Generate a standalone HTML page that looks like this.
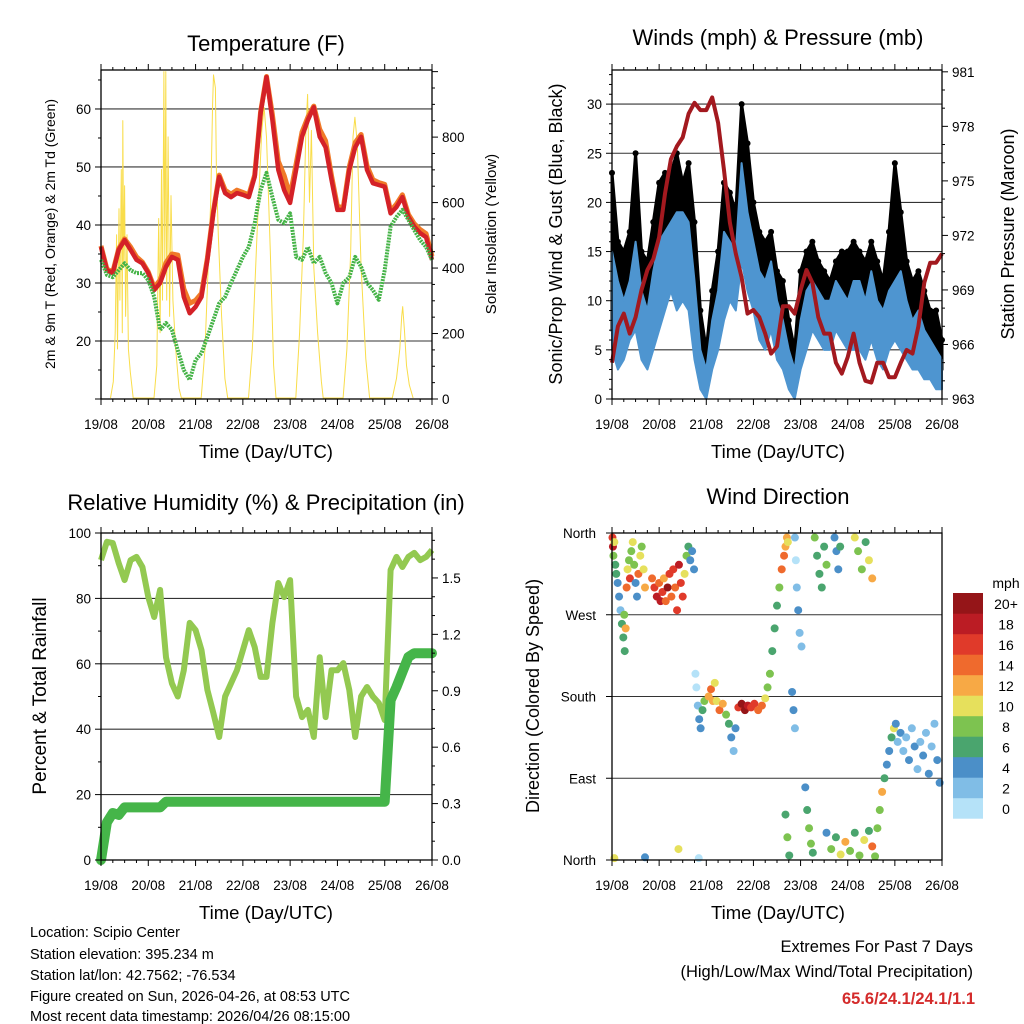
<!DOCTYPE html>
<html><head><meta charset="utf-8">
<style>
html,body{margin:0;padding:0;background:#fff;}
svg{display:block;font-family:"Liberation Sans",Arial,sans-serif;}
</style></head>
<body>
<svg id="root" width="1024" height="1024" viewBox="0 0 1024 1024" xmlns="http://www.w3.org/2000/svg">
<rect x="0" y="0" width="1024" height="1024" fill="#fff"/>
<text x="266" y="51" font-size="22" text-anchor="middle">Temperature (F)</text>
<text x="778" y="45" font-size="22" text-anchor="middle">Winds (mph) &amp; Pressure (mb)</text>
<text x="266" y="510" font-size="22" text-anchor="middle">Relative Humidity (%) &amp; Precipitation (in)</text>
<text x="778" y="504" font-size="22" text-anchor="middle">Wind Direction</text>
<text x="266" y="458" font-size="18.5" text-anchor="middle">Time (Day/UTC)</text>
<text x="778" y="458" font-size="18.5" text-anchor="middle">Time (Day/UTC)</text>
<text x="266" y="919" font-size="18.5" text-anchor="middle">Time (Day/UTC)</text>
<text x="778" y="919" font-size="18.5" text-anchor="middle">Time (Day/UTC)</text>
<text transform="translate(55,234) rotate(-90)" font-size="14" text-anchor="middle">2m &amp; 9m T (Red, Orange) &amp; 2m Td (Green)</text>
<text transform="translate(496,234) rotate(-90)" font-size="15" text-anchor="middle">Solar Insolation (Yellow)</text>
<text transform="translate(562,234) rotate(-90)" font-size="18" text-anchor="middle">Sonic/Prop Wind &amp; Gust (Blue, Black)</text>
<text transform="translate(1014,234) rotate(-90)" font-size="18" text-anchor="middle">Station Pressure (Maroon)</text>
<text transform="translate(46,696) rotate(-90)" font-size="19" text-anchor="middle">Percent &amp; Total Rainfall</text>
<text transform="translate(539,696) rotate(-90)" font-size="18" text-anchor="middle">Direction (Colored By Speed)</text>
<g font-size="14.5">
<text x="30" y="937">Location: Scipio Center</text>
<text x="30" y="959">Station elevation: 395.234 m</text>
<text x="30" y="980">Station lat/lon: 42.7562; -76.534</text>
<text x="30" y="1001">Figure created on Sun, 2026-04-26, at 08:53 UTC</text>
<text x="30" y="1021">Most recent data timestamp: 2026/04/26 08:15:00</text>
</g>
<text x="973" y="952" font-size="16.5" text-anchor="end">Extremes For Past 7 Days</text>
<text x="973" y="977" font-size="16.5" text-anchor="end">(High/Low/Max Wind/Total Precipitation)</text>
<text x="975" y="1004" font-size="16.5" font-weight="bold" fill="#d42b2b" text-anchor="end">65.6/24.1/24.1/1.1</text>
</svg>
<script>
var tempRed=[36.2,32.2,31.7,35.7,37.4,35.7,34,33.4,31.7,28.8,30,32.8,34.5,34,27.6,24.8,25.9,27.6,34,42,48.3,45.5,44.8,45.5,45.2,44.8,48.3,59.3,65.5,58.1,49.5,46,43.8,49.5,55.2,58.1,60.3,55.2,53.4,47.8,42.6,42.6,49.5,53.4,55.2,49.5,47.2,46.9,46.6,42,43.1,44.8,41.4,39.7,38.6,37.9,34];
var tempOrange=[36.4,32.4,31.9,35.9,37.6,36.2,34.5,33.6,31.9,29.2,30.5,33.5,35,34.8,29,26.5,27,28.2,34.3,42.3,48.6,46,45.3,46,45.6,45.2,48.6,59.5,65.6,59,51,48.5,45,50.5,56,58.6,60.5,56.5,54.5,48.5,43.2,43,50,54.2,55.6,50.2,47.8,47.3,47,42.4,43.6,45.2,41.8,40.2,39.2,38.5,34.6];
var dewGreen=[34,31.4,31,32.2,33.4,32.2,31.7,31.7,30.5,27.6,21.9,23.1,21.9,18.4,15,13.3,16.7,17.9,20.7,23.6,26.5,27.6,30,32.2,34.5,36.2,40.3,46,49,44.8,40.9,40.3,42,34.5,34,36.2,33.4,34.5,31.7,30,26.5,30,31,34.5,32.8,30,28.8,27.1,32.2,39.7,41.4,42.6,40.9,39.1,37.4,36.2,34];
var solarT=[0.2,0.26,0.3,0.33,0.35,0.38,0.4,0.43,0.45,0.46,0.48,0.5,0.52,0.55,0.58,0.62,0.68,1.12,1.18,1.22,1.25,1.28,1.3,1.33,1.35,1.37,1.39,1.42,1.45,1.48,1.52,1.58,1.65,1.7,2.12,2.2,2.28,2.32,2.36,2.38,2.42,2.44,2.48,2.55,2.62,2.68,3.12,3.2,3.3,3.4,3.45,3.5,3.58,3.65,3.7,4.12,4.2,4.28,4.33,4.37,4.41,4.45,4.5,4.58,4.66,4.7,5.12,5.2,5.28,5.33,5.37,5.42,5.5,5.6,5.68,6.16,6.25,6.32,6.36,6.38,6.42,6.46,6.52,6.6];
var solarV=[0,50,200,500,150,580,300,700,200,850,400,650,250,500,150,80,0,0,100,550,200,700,300,1000,400,1000,300,800,250,620,300,150,30,0,0,150,450,600,900,990,950,700,500,250,60,0,0,150,500,820,890,800,450,100,0,0,200,500,800,930,600,820,400,200,50,0,0,150,450,800,860,780,400,120,0,0,60,150,250,280,200,100,40,0];
var pressure=[965.0,967.0,967.7,966.6,967.5,969.0,970.1,970.7,971.9,974.3,976.2,976.9,977.4,978.7,979.3,978.9,978.9,979.6,978.2,975.6,972.7,971.0,969.7,967.7,967.9,967.5,966.6,965.5,965.9,968.1,968.1,967.7,969.0,970.1,969.4,967.5,966.6,966.6,965.0,964.4,965.3,966.6,965.0,964.0,963.9,965.0,965.0,964.2,964.2,965.0,965.7,965.5,967.0,969.4,970.5,970.5,971.0];
var windLo=[5,3,4,6,7,4,3,5,7,9,11,9,10,9,4,1,0,3,5,8,10,9,14,11,9,6,5,7,4,3,1,0,3,5,7,6,5,5,7,6,5,5,5,4,6,4,3,5,6,5,4,3,3,2,2,1,1];
var windHi=[15,12,10,12,16,11,9,13,16,17,18,19,19,18,12,5,3,8,11,17,16,15,24,19,16,13,12,14,10,8,5,3,8,11,12,11,10,10,12,11,10,12,12,10,13,10,9,11,12,13,10,8,9,7,6,5,4];
var gustHi=[23,16,15,17,25,15,14,18,22,23,23,25,22,24,18,9,5,11,15,22,21,19,30,26,20,17,16,17,13,12,8,5,13,15,16,14,13,12,14,15,15,16,15,14,16,14,12,17,24,19,14,12,13,11,9,9,6];
var rhValues=[91.7,97.3,96.9,90.8,85.6,91.7,92.7,89.6,80.4,74.3,82.6,62,54,50,58,72.5,70.3,64.2,52,45,37.6,50,54,58,64.2,70.3,65.1,56,56,72.5,84.7,80.4,85.6,50,43.7,45.9,37.6,62,43.7,58,58,60.2,52,37.6,50,52.9,50,48,42.8,88.7,92.7,89.6,92.7,93.9,91.7,92.7,94.8];
var precipValues=[0,0.2,0.25,0.24,0.28,0.28,0.28,0.28,0.28,0.28,0.28,0.31,0.31,0.31,0.31,0.31,0.31,0.31,0.31,0.31,0.31,0.31,0.31,0.31,0.31,0.31,0.31,0.31,0.31,0.31,0.31,0.31,0.31,0.31,0.31,0.31,0.31,0.31,0.31,0.31,0.31,0.31,0.31,0.31,0.31,0.31,0.31,0.31,0.31,0.85,0.92,1.0,1.08,1.1,1.1,1.1,1.1];
var dirT=[0.01,0.02,0.03,0.05,0.07,0.09,0.12,0.15,0.18,0.21,0.24,0.27,0.26,0.29,0.31,0.33,0.36,0.38,0.41,0.44,0.47,0.5,0.53,0.56,0.6,0.63,0.67,0.7,
0.85,0.9,0.95,1.0,1.03,1.07,1.1,1.14,1.18,1.22,1.26,1.3,1.34,1.38,1.42,1.46,1.5,1.54,1.58,1.62,1.66,1.7,1.74,
1.77,1.79,1.82,1.85,1.88,1.92,1.96,
2.05,2.1,2.14,2.18,2.22,2.28,2.35,2.42,2.48,2.53,2.58,2.62,2.68,2.75,2.82,2.88,2.95,3.02,3.1,3.18,3.25,3.3,
3.35,3.4,3.45,3.5,3.55,3.6,3.65,3.68,3.71,3.73,
3.88,3.9,3.92,3.95,3.98,4.02,3.82,3.85,3.88,
4.3,4.35,4.4,4.45,4.5,4.55,4.72,4.76,4.8,4.84,5.15,5.22,5.3,5.38,5.45,5.52,
0.05,0.7,1.41,1.84,3.68,3.72,3.76,4.1,4.14,4.18,4.22,4.26,4.55,4.65,4.75,4.85,4.95,5.05,5.15,5.25,5.35,5.45,5.52,5.58,
5.63,5.68,5.73,5.78,5.83,5.88,5.93,5.98,6.02,
6.06,6.12,6.18,6.24,6.3,6.36,6.42,6.48,6.54,6.6,6.66,6.72,6.78,6.84,6.9,6.95];
var dirDeg=[355,345,335,350,325,315,305,290,275,260,245,230,270,255,300,320,330,310,340,350,325,305,290,315,335,345,320,300,
310,300,290,305,285,295,310,285,300,315,290,320,300,275,325,305,290,315,335,345,330,340,320,
205,190,170,155,145,165,175,
180,188,175,195,175,165,172,160,150,135,120,145,168,172,165,170,168,172,165,170,178,190,
205,230,255,280,300,320,335,345,355,350,
355,330,300,275,250,235,185,165,145,
355,335,315,300,345,325,355,340,320,345,355,340,320,350,330,310,
2,3,12,2,50,25,5,80,55,35,18,8,30,12,25,6,20,10,30,5,22,32,15,4,
35,55,75,90,105,120,135,145,150,
130,140,120,135,110,145,125,100,130,115,140,95,125,150,110,85];
var dirSpeed=[16,19,8,10,6,7,4,4,3,6,6,7,9,12,15,11,9,16,8,10,9,4,5,14,11,9,10,12,
14,17,18,15,19,16,12,14,20,16,15,17,14,16,18,16,17,10,8,7,4,5,4,
1,1,3,4,4,6,9,
13,14,12,10,11,14,12,8,6,5,2,4,16,20,20,19,17,16,15,14,10,8,
8,6,7,6,8,14,15,12,12,11,
2,1,3,4,2,3,4,4,2,
8,7,6,7,7,9,4,5,4,6,10,8,9,7,10,12,
10,5,10,1,6,8,7,4,6,8,9,6,5,8,6,10,12,8,6,8,10,6,14,9,
9,8,12,7,5,4,6,10,5,
3,4,3,2,4,3,5,3,2,4,3,4,2,3,4,5];
var speedColors=["#b5e2f8","#80bde6","#4b8fc8","#4aa56e","#7dc350","#e6e05c","#f7a945","#ef6a2d","#e03a2a","#bb1c24","#951518"];
var speedLabels=["0","2","4","6","8","10","12","14","16","18","20+"];
var dayLabels=["19/08","20/08","21/08","22/08","23/08","24/08","25/08","26/08"];

var NS="http://www.w3.org/2000/svg";
var root=document.getElementById('root');
function mk(tag,attrs,parent){var e=document.createElementNS(NS,tag);for(var k in attrs)e.setAttribute(k,attrs[k]);(parent||root).appendChild(e);return e;}
function stepT(i){return i*0.125;}
function xScale(x0,x1){return function(d){return x0+d/7*(x1-x0);};}

function border(x0,y0,x1,y1,name){
  var r=mk('rect',{x:x0,y:y0,width:x1-x0,height:y1-y0,fill:'none',stroke:'#000','stroke-width':1.3});
  
  
}
function grid(x0,x1,ys,name){
  for(var i=0;i<ys.length;i++){
    var l=mk('line',{x1:x0,x2:x1,y1:ys[i],y2:ys[i],stroke:'#000','stroke-width':1.1,'stroke-opacity':0.8});
    
    
  }
}
function xAxis(x0,x1,y0,y1,name){
  var X=xScale(x0,x1);
  for(var q=0;q<=28;q++){
    var d=q/4, major=(q%4==0), len=major?6:3, x=X(d);
    mk('line',{x1:x,x2:x,y1:y1,y2:y1+len,stroke:'#000','stroke-width':1});
    mk('line',{x1:x,x2:x,y1:y0,y2:y0-len,stroke:'#000','stroke-width':1});
    if(major){
      var t=mk('text',{x:x,y:y1+30,'font-size':13.5,'text-anchor':'middle'});
      t.textContent=dayLabels[q/4];
      
      
    }
  }
}
function yAxis(x,y0,y1,vmin,vmax,major,minor,side,fmt,name,labelFilter){
  var Y=function(v){return y1-(v-vmin)/(vmax-vmin)*(y1-y0);};
  var dir=side=='left'?-1:1;
  var start=Math.ceil(vmin/minor-1e-6)*minor;
  for(var v=start; v<=vmax+1e-6; v+=minor){
    var vv=Math.round(v*1000)/1000;
    var isMaj=Math.abs(vv/major-Math.round(vv/major))<1e-6;
    var y=Y(vv);
    mk('line',{x1:x,x2:x+dir*(isMaj?6:3),y1:y,y2:y,stroke:'#000','stroke-width':1});
    if(isMaj&&(!labelFilter||labelFilter(vv))){
      var t=mk('text',{x:x+dir*10,y:y+5,'font-size':13.5,'text-anchor':side=='left'?'end':'start'});
      t.textContent=fmt(vv);
      
      
    }
  }
  return Y;
}
function poly(pts,attrs,name){
  var s=pts.map(function(p){return p[0].toFixed(1)+','+p[1].toFixed(1);}).join(' ');
  attrs.points=s;
  var e=mk(attrs.fill&&attrs.fill!='none'?'polygon':'polyline',attrs);
  
  
  return e;
}

/* ---- Panel 1: Temperature ---- */
(function(){
  var x0=101,x1=432,y0=70,y1=399,X=xScale(x0,x1);
  var Yt=function(v){return y1-(v-10)/(66.72-10)*(y1-y0);};
  var Ys=function(v){return 398-v*0.3264;};
  grid(x0,x1,[20,30,40,50,60].map(Yt),'temp');
  poly(solarT.map(function(t,i){return [X(t),Ys(solarV[i])];}),{fill:'none',stroke:'#f9dd4a','stroke-width':1,'stroke-linejoin':'round'},'solar-line');
  poly(tempOrange.map(function(v,i){return [X(stepT(i)),Yt(v)];}),{fill:'none',stroke:'#f07a28','stroke-width':5,'stroke-linejoin':'round'},'temp-9m-line');
  poly(tempRed.map(function(v,i){return [X(stepT(i)),Yt(v)];}),{fill:'none',stroke:'#d42127','stroke-width':4.5,'stroke-linejoin':'round'},'temp-2m-line');
  poly(dewGreen.map(function(v,i){return [X(stepT(i)),Yt(v)];}),{fill:'none',stroke:'#45b347','stroke-width':4,'stroke-dasharray':'2 1','stroke-linejoin':'round'},'dewpoint-line');
  border(x0,y0,x1,y1,'temp');
  yAxis(x0,y0,y1,10,66.72,10,5,'left',function(v){return v;},'temp-y',function(v){return v>=20;});
  yAxis(x1,y0,y1,0,1005,200,50,'right',function(v){return v;},'solar-y',function(v){return v<=800;});
  xAxis(x0,x1,y0,y1,'temp');
})();

/* ---- Panel 2: Winds ---- */
(function(){
  var x0=612,x1=942,y0=70,y1=399,X=xScale(x0,x1);
  var Yw=function(v){return y1-v*9.83;};
  var Yp=function(p){return y1-(p-963)*18.17;};
  grid(x0,x1,[5,10,15,20,25,30].map(Yw),'wind');
  var gpts=[],bpts=[];
  for(var i=0;i<gustHi.length;i++)gpts.push([X(stepT(i)),Yw(gustHi[i])]);
  for(var i=windLo.length-1;i>=0;i--)gpts.push([X(stepT(i)),Yw(windLo[i]+2)]);
  poly(gpts,{fill:'#000',stroke:'#000','stroke-width':3,'stroke-linejoin':'round'},'gust-band');
  for(var i=0;i<gustHi.length;i++){
    var c=mk('circle',{cx:X(stepT(i)),cy:Yw(gustHi[i]),r:3,fill:'#000'});
    
    
  }
  for(var i=0;i<windHi.length;i++)bpts.push([X(stepT(i)),Yw(windHi[i])]);
  for(var i=windLo.length-1;i>=0;i--)bpts.push([X(stepT(i)),Yw(windLo[i])]);
  poly(bpts,{fill:'#4e95d0',stroke:'#4e95d0','stroke-width':2,'stroke-linejoin':'round'},'wind-band');
  poly(pressure.map(function(p,i){return [X(stepT(i)),Yp(p)];}),{fill:'none',stroke:'#a3191f','stroke-width':4,'stroke-linejoin':'round'},'pressure-line');
  border(x0,y0,x1,y1,'wind');
  yAxis(x0,y0,y1,0,33.47,5,1,'left',function(v){return v;},'wind-y');
  yAxis(x1,y0,y1,963,981.1,3,1,'right',function(v){return v;},'pressure-y');
  xAxis(x0,x1,y0,y1,'wind');
})();

/* ---- Panel 3: RH & precip ---- */
(function(){
  var x0=101,x1=432,y0=533,y1=860,X=xScale(x0,x1);
  var Yr=function(v){return y1-v*3.27;};
  var Yq=function(p){return y1-p*188;};
  grid(x0,x1,[20,40,60,80].map(Yr),'rh');
  poly(rhValues.map(function(v,i){return [X(stepT(i)),Yr(v)];}),{fill:'none',stroke:'#93c951','stroke-width':6,'stroke-linejoin':'round'},'rh-line');
  poly(precipValues.map(function(v,i){return [X(stepT(i)),Yq(v)];}),{fill:'none',stroke:'#45b549','stroke-width':10,'stroke-linejoin':'round','stroke-linecap':'round'},'precip-line');
  border(x0,y0,x1,y1,'rh');
  yAxis(x0,y0,y1,0,100,20,10,'left',function(v){return v;},'rh-y');
  yAxis(x1,y0,y1,0,1.739,0.3,0.1,'right',function(v){return v.toFixed(1);},'precip-y');
  xAxis(x0,x1,y0,y1,'rh');
})();

/* ---- Panel 4: Wind direction ---- */
(function(){
  var x0=612,x1=942,y0=533,y1=860,X=xScale(x0,x1);
  var Yd=function(d){return y1-d/360*(y1-y0);};
  grid(x0,x1,[90,180,270].map(Yd),'dir');
  for(var i=0;i<dirT.length;i++){
    var bin=Math.min(10,Math.floor(dirSpeed[i]/2));
    var c=mk('circle',{cx:X(dirT[i]),cy:Yd(dirDeg[i]),r:4,fill:speedColors[bin]});
    
    
  }
  border(x0,y0,x1,y1,'dir');
  var names=['North','East','South','West','North'];
  for(var k=0;k<5;k++){
    var y=Yd(k*90);
    mk('line',{x1:x0,x2:x0-6,y1:y,y2:y,stroke:'#000'});
    var t=mk('text',{x:x0-16,y:y+5,'font-size':13.5,'text-anchor':'end'});
    t.textContent=names[k];
    
    
  }
  xAxis(x0,x1,y0,y1,'dir');
  var mph=mk('text',{x:1006,y:588,'font-size':14,'text-anchor':'middle'});
  mph.textContent='mph';
  
  
  for(var b=0;b<11;b++){
    var top=593+(10-b)*20.5;
    var r=mk('rect',{x:953,y:top,width:30,height:20.7,fill:speedColors[b]});
    
    
    var t=mk('text',{x:1006,y:top+16,'font-size':14,'text-anchor':'middle'});
    t.textContent=speedLabels[b];
    
    
  }
})();
</script>
</body></html>
